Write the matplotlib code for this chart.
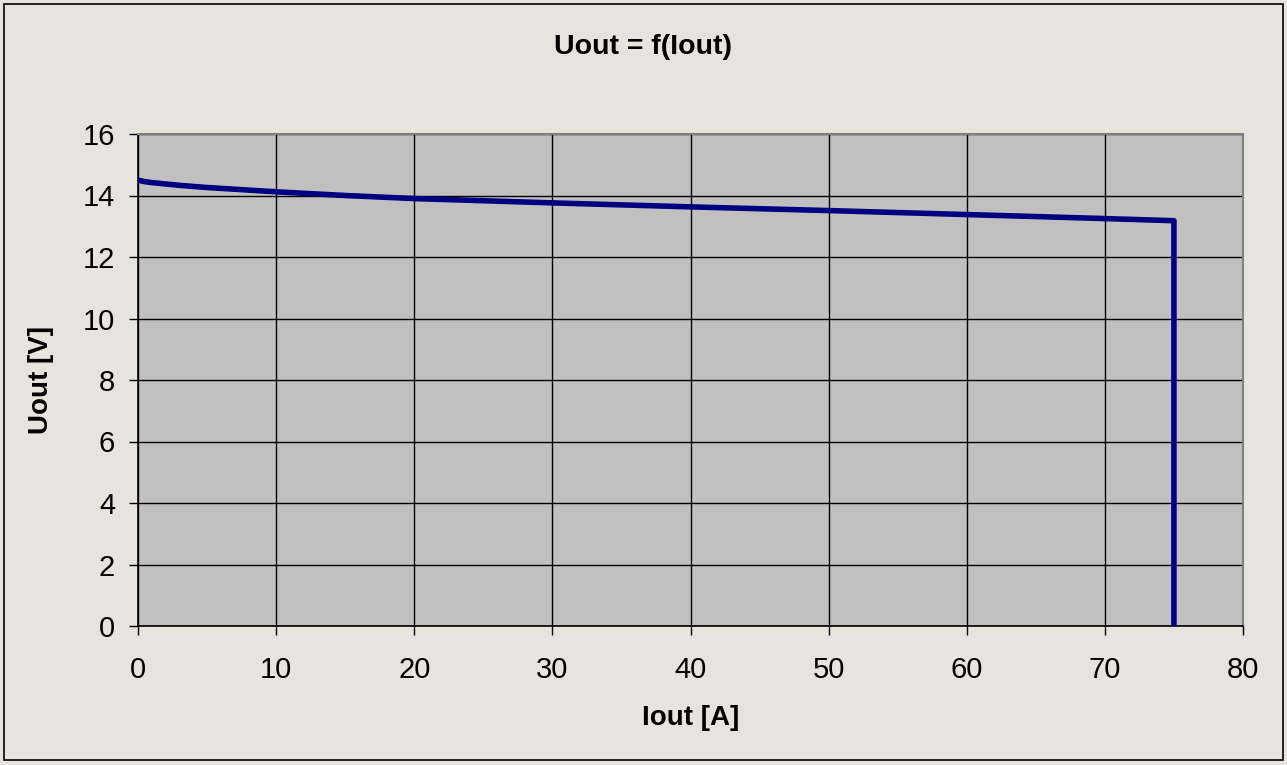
import matplotlib
matplotlib.use('Agg')
from matplotlib import pyplot as plt
from matplotlib.patches import Rectangle

plt.rcParams['font.family'] = ['Liberation Sans', 'DejaVu Sans']

iout = [0, 0.5, 1, 3, 5, 10, 15, 20, 30, 40, 50, 60, 70, 75, 75]
uout = [14.5, 14.45, 14.42, 14.33, 14.26, 14.12, 14.0, 13.9, 13.76, 13.63, 13.51, 13.38, 13.25, 13.18, 0]

x_ticks = list(range(0, 81, 10))
y_ticks = list(range(0, 17, 2))

fig = plt.figure(figsize=(12.87, 7.65), dpi=100)
fig.patch.set_facecolor('#e6e4dc')
fig.patches.append(Rectangle((4 / 1287, 5 / 765), 1279 / 1287, 756 / 765,
                             transform=fig.transFigure, fill=False,
                             edgecolor='black', linewidth=1.2))

ax = fig.add_axes([138 / 1287, 1 - 626 / 765, 1105 / 1287, 492 / 765])
ax.set_facecolor('#c0c0c0')
ax.plot(iout, uout, color='#000080', linewidth=4, solid_joinstyle='round', zorder=3)

ax.set_xlim(0, 80)
ax.set_ylim(0, 16)
ax.set_xticks(x_ticks)
ax.set_yticks(y_ticks)
ax.grid(True, color='black', linewidth=1)
ax.tick_params(direction='out', length=6.5, width=1, labelsize=21)
ax.tick_params(axis='x', pad=15)
ax.tick_params(axis='y', pad=10)

for side in ['left', 'bottom']:
    ax.spines[side].set_color('black')
    ax.spines[side].set_linewidth(1.2)
for side in ['right', 'top']:
    ax.spines[side].set_color('#808080')
    ax.spines[side].set_linewidth(1.5)

ax.set_xlabel('Iout [A]', fontsize=20, fontweight='bold', va='center')
ax.xaxis.set_label_coords(0.5, (626 - 718) / 492)
ax.set_ylabel('Uout [V]', fontsize=20, fontweight='bold', va='center')
ax.yaxis.set_label_coords((41 - 138) / 1105, 0.5)
fig.text(0.5, 1 - 47 / 765, 'Uout = f(Iout)', ha='center', va='center',
         fontsize=20.5, fontweight='bold')

fig.savefig('out.png', dpi=100, facecolor=fig.get_facecolor())
